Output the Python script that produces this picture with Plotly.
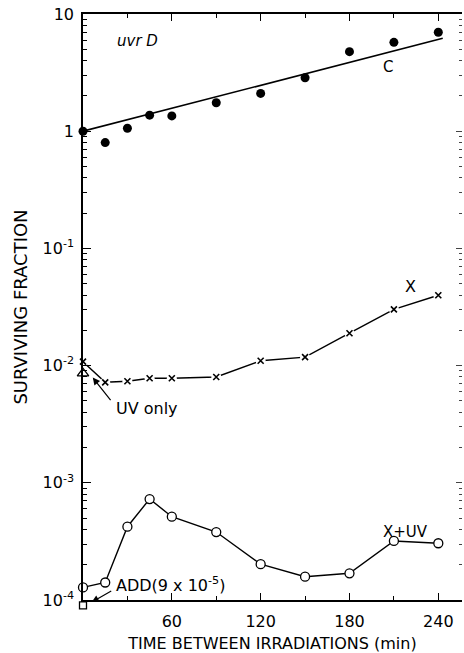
import math
import plotly.graph_objects as go

# Time between the X-ray and UV doses (min)
t_c = [0, 15, 30, 45, 60, 90, 120, 150, 180, 210, 240]
surv_c = [1.0, 0.80, 1.06, 1.37, 1.35, 1.75, 2.10, 2.86, 4.77, 5.73, 6.98]

# Exponential fit drawn through the C points
fit_t = [0, 243]
fit_s = [1.0, 6.2]

t_x = [0, 15, 30, 45, 60, 90, 120, 150, 180, 210, 240]
surv_x = [0.0108, 0.0072, 0.00735, 0.0078, 0.0078, 0.0080, 0.0110, 0.0118, 0.0189, 0.0302, 0.0398]

t_xuv = [0, 15, 30, 45, 60, 90, 120, 150, 180, 210, 240]
surv_xuv = [1.28e-4, 1.41e-4, 4.22e-4, 7.27e-4, 5.14e-4, 3.80e-4, 2.02e-4, 1.58e-4, 1.69e-4, 3.19e-4, 3.05e-4]

uv_only_t = [0]
uv_only_s = [0.0086]

add_t = [0]
add_s = [9e-5]

x_tickvals = [60, 120, 180, 240]
x_ticktext = ["60", "120", "180", "240"]
x_minor = [30, 90, 150, 210]

y_tickvals = [1e-4, 1e-3, 1e-2, 1e-1, 1, 10]
y_ticktext = ["10<sup>-4</sup>", "10<sup>-3</sup>", "10<sup>-2</sup>",
              "10<sup>-1</sup>", "1", "10"]
y_minor = [m * 10.0 ** e for e in range(-4, 1) for m in range(2, 10)]

FONT = "DejaVu Sans"
INK = "black"
L = math.log10  # annotation positions on a log axis are given in decades

# Plot box geometry: main panel, plus a few pixels below it where the
# additive-expectation point (below 1e-4) is drawn on a matching scale.
TOP, BOTTOM_M = 14, 33
PANEL_H = 653 - TOP - BOTTOM_M
EXTRA = 20                                # pixels below the 1e-4 line
MAIN_H = PANEL_H - EXTRA
EXT_DEC = EXTRA * 5.0 / MAIN_H            # the same strip, in decades

fig = go.Figure()

# C: fitted line (on the right-hand overlay axis, same scale) and filled circles
fig.add_trace(go.Scatter(x=fit_t, y=fit_s, mode="lines", yaxis="y2",
                         line=dict(color=INK, width=1.6), cliponaxis=False))
fig.add_trace(go.Scatter(x=t_c, y=surv_c, mode="markers",
                         marker=dict(symbol="circle", size=9, color=INK),
                         cliponaxis=False))

# X: connected line broken around the crosses
fig.add_trace(go.Scatter(x=t_x, y=surv_x, mode="lines",
                         line=dict(color=INK, width=1.4), cliponaxis=False))
fig.add_trace(go.Scatter(x=t_x, y=surv_x, mode="markers",
                         marker=dict(symbol="circle", size=10, color="white",
                                     line=dict(width=0)),
                         cliponaxis=False))
fig.add_trace(go.Scatter(x=t_x, y=surv_x, mode="markers",
                         marker=dict(symbol="x-thin", size=6,
                                     line=dict(color=INK, width=1.6)),
                         cliponaxis=False))

# UV only
fig.add_trace(go.Scatter(x=uv_only_t, y=uv_only_s, mode="markers",
                         marker=dict(symbol="triangle-up-open", size=10,
                                     color=INK, line=dict(width=1.3)),
                         cliponaxis=False))

# X + UV: open circles
fig.add_trace(go.Scatter(x=t_xuv, y=surv_xuv, mode="lines+markers",
                         line=dict(color=INK, width=1.4),
                         marker=dict(symbol="circle", size=9, color="white",
                                     line=dict(color=INK, width=1.3)),
                         cliponaxis=False))

# Additive expectation (just below the 1e-4 axis line)
fig.add_trace(go.Scatter(x=add_t, y=add_s, mode="markers",
                         xaxis="x3", yaxis="y3",
                         marker=dict(symbol="square-open", size=7, color=INK,
                                     line=dict(width=1.3)),
                         cliponaxis=False))

annotations = [
    dict(x=36.6, y=L(5.9), xref="x", yref="y", text="<i>uvr D</i>",
         xanchor="center", yanchor="middle",
         showarrow=False, font=dict(size=15)),
    dict(x=206, y=L(3.5), xref="x", yref="y", text="C",
         showarrow=False, font=dict(size=15)),
    dict(x=221, y=L(0.047), xref="x", yref="y", text="X",
         showarrow=False, font=dict(size=16)),
    dict(x=218, y=L(3.8e-4), xref="x", yref="y", text="X+UV",
         showarrow=False, font=dict(size=15)),
    dict(x=43, y=L(0.0043), xref="x", yref="y", text="UV only",
         showarrow=False, font=dict(size=16)),
    dict(x=21, y=L(1.35e-4), xref="x", yref="y",
         text="ADD(9 x 10<sup>-5</sup>)", xanchor="left",
         showarrow=False, font=dict(size=16)),
    # arrows
    dict(x=6.6, y=L(0.0079), xref="x", yref="y", text="", showarrow=True,
         ax=19, ay=24, arrowhead=2, arrowsize=1.2, arrowwidth=1.2,
         arrowcolor=INK),
    dict(x=5.9, y=L(9.6e-5), xref="x3", yref="y3", text="", showarrow=True,
         ax=21, ay=-12, arrowhead=2, arrowsize=1.2, arrowwidth=1.2,
         arrowcolor=INK),
]

fig.update_layout(
    width=464, height=653,
    margin=dict(l=83, r=2, t=TOP, b=BOTTOM_M),
    paper_bgcolor="white", plot_bgcolor="rgba(0,0,0,0)",
    showlegend=False,
    font=dict(family=FONT, color=INK, size=15),
    annotations=annotations,
    xaxis=dict(
        range=[0, 256], showgrid=False, zeroline=False, anchor="y",
        showline=True, linecolor=INK, linewidth=1.5, mirror="ticks",
        ticks="inside", ticklen=7, tickwidth=1.3, tickcolor=INK,
        tickmode="array", tickvals=x_tickvals, ticktext=x_ticktext,
        tickfont=dict(size=16), ticklabelstandoff=6,
        minor=dict(tickmode="array", tickvals=x_minor, ticks="inside",
                   ticklen=4, tickwidth=1.2, tickcolor=INK),
        title=dict(text="TIME BETWEEN IRRADIATIONS (min)",
                   font=dict(size=16), standoff=8),
    ),
    yaxis=dict(
        type="log", range=[-4, 1], domain=[EXTRA / PANEL_H, 1],
        showgrid=False, zeroline=False, anchor="x",
        showline=True, linecolor=INK, linewidth=1.5,
        ticks="inside", ticklen=8, tickwidth=1.3, tickcolor=INK,
        tickmode="array", tickvals=y_tickvals, ticktext=y_ticktext,
        tickfont=dict(size=16), ticklabelstandoff=4,
        minor=dict(tickmode="array", tickvals=y_minor, ticks="inside",
                   ticklen=4, tickwidth=1.1, tickcolor=INK),
        title=dict(text="SURVIVING FRACTION", font=dict(size=18), standoff=10),
    ),
    yaxis2=dict(
        type="log", range=[-4, 1], overlaying="y", side="right",
        showgrid=False, zeroline=False, showline=False,
        showticklabels=False,
        ticks="inside", ticklen=6, tickwidth=1.0, tickcolor="#444",
        tickmode="array", tickvals=y_tickvals,
        minor=dict(tickmode="array", tickvals=y_minor, ticks="inside",
                   ticklen=3, tickwidth=1.0, tickcolor="#444"),
    ),
    xaxis3=dict(range=[0, 256], domain=[0, 1], anchor="y3", visible=False),
    yaxis3=dict(type="log", range=[-4 - EXT_DEC, 1], domain=[0, 1],
                anchor="x3", visible=False),
)

fig.write_html("out.html")
